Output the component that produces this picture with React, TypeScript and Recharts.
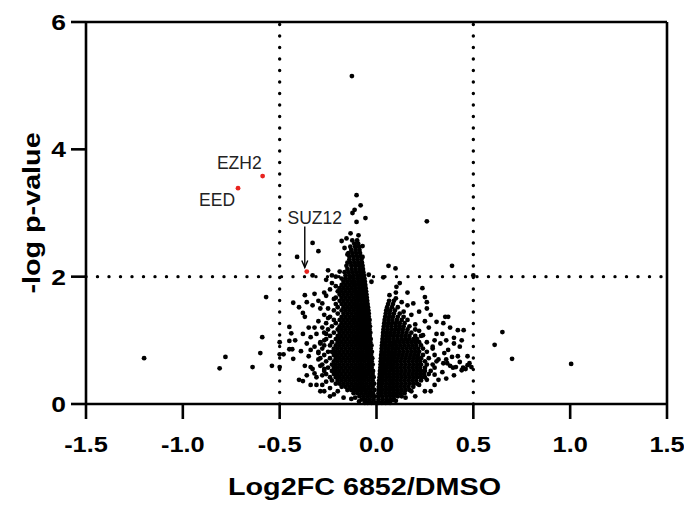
import React from "react";
import { ScatterChart, Scatter, XAxis, YAxis, ReferenceLine } from "recharts";

const xTicks = [-1.5, -1.0, -0.5, 0, 0.5, 1.0, 1.5];
const yTicks = [0, 2, 4, 6];

const hitNames = ["EZH2", "EED", "SUZ12"];
const hitLog2FC = [-0.588, -0.715, -0.36];
const hitLogP = [3.58, 3.39, 2.08];

// dense core of the volcano, one row per -log p level: [y, x values]
const leftRows: [number, number[]][] = [
  [0.02, [-0.005, -0.025, -0.045]],
  [0.07, [-0.015, -0.035, -0.055, -0.075]],
  [0.12, [-0.008, -0.028, -0.048, -0.068, -0.088]],
  [0.17, [-0.018, -0.038, -0.058, -0.078, -0.098, -0.118]],
  [0.22, [-0.01, -0.03, -0.05, -0.07, -0.09, -0.11, -0.13, -0.15]],
  [0.27, [-0.02, -0.04, -0.06, -0.08, -0.1, -0.12, -0.14, -0.16, -0.18]],
  [0.32, [-0.012, -0.03, -0.05, -0.07, -0.09, -0.11, -0.13, -0.15, -0.17, -0.19, -0.21]],
  [0.37, [-0.02, -0.04, -0.06, -0.08, -0.1, -0.12, -0.14, -0.16, -0.18, -0.2, -0.23]],
  [0.42, [-0.015, -0.03, -0.05, -0.07, -0.09, -0.11, -0.13, -0.15, -0.17, -0.19, -0.21, -0.24]],
  [0.47, [-0.02, -0.04, -0.06, -0.08, -0.1, -0.12, -0.14, -0.16, -0.18, -0.2, -0.22, -0.26]],
  [0.52, [-0.018, -0.035, -0.05, -0.07, -0.09, -0.11, -0.13, -0.15, -0.17, -0.19, -0.21, -0.23, -0.27]],
  [0.57, [-0.025, -0.04, -0.06, -0.08, -0.1, -0.12, -0.14, -0.16, -0.18, -0.2, -0.22, -0.25]],
  [0.62, [-0.02, -0.035, -0.05, -0.07, -0.09, -0.11, -0.13, -0.15, -0.17, -0.19, -0.21, -0.23, -0.28]],
  [0.67, [-0.025, -0.04, -0.06, -0.08, -0.1, -0.12, -0.14, -0.16, -0.18, -0.2, -0.22, -0.26]],
  [0.72, [-0.022, -0.035, -0.05, -0.07, -0.09, -0.11, -0.13, -0.15, -0.17, -0.19, -0.21, -0.24, -0.29]],
  [0.77, [-0.028, -0.045, -0.06, -0.08, -0.1, -0.12, -0.14, -0.16, -0.18, -0.2, -0.22, -0.27]],
  [0.82, [-0.024, -0.04, -0.05, -0.07, -0.09, -0.11, -0.13, -0.15, -0.17, -0.19, -0.21, -0.23, -0.25, -0.3]],
  [0.87, [-0.03, -0.045, -0.06, -0.08, -0.1, -0.12, -0.14, -0.16, -0.18, -0.2, -0.22, -0.28]],
  [0.92, [-0.026, -0.04, -0.055, -0.07, -0.09, -0.11, -0.13, -0.15, -0.17, -0.19, -0.21, -0.24, -0.27]],
  [0.97, [-0.032, -0.05, -0.065, -0.08, -0.1, -0.12, -0.14, -0.16, -0.18, -0.2, -0.23, -0.29]],
  [1.02, [-0.03, -0.045, -0.06, -0.075, -0.09, -0.11, -0.13, -0.15, -0.17, -0.19, -0.21, -0.26]],
  [1.07, [-0.035, -0.05, -0.065, -0.08, -0.1, -0.12, -0.14, -0.16, -0.18, -0.2, -0.24]],
  [1.12, [-0.032, -0.045, -0.06, -0.075, -0.09, -0.11, -0.13, -0.15, -0.17, -0.19, -0.22, -0.27]],
  [1.17, [-0.036, -0.05, -0.065, -0.08, -0.1, -0.12, -0.14, -0.16, -0.18, -0.2, -0.25]],
  [1.22, [-0.034, -0.048, -0.06, -0.075, -0.09, -0.11, -0.13, -0.15, -0.17, -0.19, -0.23]],
  [1.27, [-0.038, -0.052, -0.065, -0.08, -0.1, -0.12, -0.14, -0.16, -0.18, -0.21, -0.26]],
  [1.32, [-0.036, -0.05, -0.065, -0.08, -0.09, -0.11, -0.13, -0.15, -0.17, -0.19, -0.22]],
  [1.37, [-0.04, -0.055, -0.07, -0.085, -0.1, -0.12, -0.14, -0.16, -0.18, -0.24]],
  [1.42, [-0.04, -0.055, -0.07, -0.085, -0.1, -0.11, -0.13, -0.15, -0.17, -0.2]],
  [1.47, [-0.042, -0.058, -0.072, -0.088, -0.1, -0.12, -0.14, -0.16, -0.18, -0.22]],
  [1.52, [-0.044, -0.06, -0.075, -0.09, -0.11, -0.13, -0.15, -0.17, -0.2]],
  [1.57, [-0.046, -0.062, -0.078, -0.095, -0.11, -0.12, -0.14, -0.16, -0.18, -0.21]],
  [1.62, [-0.048, -0.064, -0.08, -0.095, -0.11, -0.13, -0.15, -0.17, -0.19]],
  [1.67, [-0.05, -0.066, -0.082, -0.1, -0.12, -0.14, -0.16, -0.18, -0.21]],
  [1.72, [-0.052, -0.068, -0.085, -0.1, -0.11, -0.13, -0.15, -0.17, -0.19]],
  [1.77, [-0.054, -0.07, -0.088, -0.105, -0.12, -0.14, -0.16, -0.18, -0.2]],
  [1.82, [-0.056, -0.072, -0.09, -0.11, -0.13, -0.15, -0.17, -0.19]],
  [1.87, [-0.058, -0.075, -0.092, -0.11, -0.12, -0.14, -0.16, -0.18]],
  [1.92, [-0.06, -0.078, -0.095, -0.115, -0.13, -0.15, -0.17]],
  [1.97, [-0.062, -0.08, -0.1, -0.12, -0.14, -0.16, -0.18]],
  [2.02, [-0.065, -0.082, -0.1, -0.12, -0.14, -0.16]],
  [2.07, [-0.068, -0.085, -0.105, -0.125, -0.145, -0.165]],
  [2.12, [-0.07, -0.088, -0.108, -0.128, -0.15]],
  [2.17, [-0.072, -0.09, -0.11, -0.13, -0.155]],
  [2.22, [-0.075, -0.095, -0.115, -0.135, -0.15]],
  [2.27, [-0.078, -0.098, -0.118, -0.14]],
  [2.32, [-0.082, -0.1, -0.12, -0.14]],
  [2.37, [-0.085, -0.105, -0.125, -0.145]],
  [2.42, [-0.088, -0.108, -0.13]],
  [2.47, [-0.09, -0.11, -0.135]],
  [2.52, [-0.095, -0.115]],
  [2.57, [-0.1, -0.125]],
];

const rightRows: [number, number[]][] = [
  [0.02, [0.008, 0.028, 0.048, 0.07]],
  [0.07, [0.01, 0.03, 0.05, 0.07, 0.09]],
  [0.12, [0.012, 0.03, 0.05, 0.07, 0.09, 0.11, 0.13]],
  [0.17, [0.01, 0.025, 0.045, 0.065, 0.085, 0.105, 0.125, 0.145]],
  [0.22, [0.012, 0.03, 0.05, 0.07, 0.09, 0.11, 0.13, 0.15, 0.17]],
  [0.27, [0.012, 0.025, 0.045, 0.065, 0.085, 0.105, 0.125, 0.145, 0.165, 0.19]],
  [0.32, [0.013, 0.03, 0.05, 0.07, 0.09, 0.11, 0.13, 0.15, 0.17, 0.19, 0.21]],
  [0.37, [0.014, 0.028, 0.045, 0.065, 0.085, 0.105, 0.125, 0.145, 0.165, 0.185, 0.205, 0.23]],
  [0.42, [0.016, 0.03, 0.05, 0.07, 0.09, 0.11, 0.13, 0.15, 0.17, 0.19, 0.21, 0.23, 0.25]],
  [0.47, [0.017, 0.032, 0.048, 0.065, 0.085, 0.105, 0.125, 0.145, 0.165, 0.185, 0.205, 0.225, 0.245, 0.27]],
  [0.52, [0.018, 0.034, 0.05, 0.07, 0.09, 0.11, 0.13, 0.15, 0.17, 0.19, 0.21, 0.23, 0.25, 0.28]],
  [0.57, [0.02, 0.035, 0.052, 0.07, 0.085, 0.105, 0.125, 0.145, 0.165, 0.185, 0.205, 0.225, 0.25, 0.3]],
  [0.62, [0.021, 0.036, 0.054, 0.07, 0.09, 0.11, 0.13, 0.15, 0.17, 0.19, 0.21, 0.23, 0.26, 0.29]],
  [0.67, [0.022, 0.038, 0.055, 0.072, 0.09, 0.105, 0.125, 0.145, 0.165, 0.185, 0.205, 0.225, 0.25, 0.31]],
  [0.72, [0.023, 0.04, 0.058, 0.075, 0.09, 0.11, 0.13, 0.15, 0.17, 0.19, 0.21, 0.23, 0.27]],
  [0.77, [0.024, 0.042, 0.06, 0.077, 0.095, 0.115, 0.135, 0.155, 0.175, 0.195, 0.215, 0.24, 0.3]],
  [0.82, [0.026, 0.044, 0.062, 0.08, 0.1, 0.12, 0.14, 0.16, 0.18, 0.2, 0.22, 0.26]],
  [0.87, [0.027, 0.045, 0.064, 0.082, 0.1, 0.115, 0.135, 0.155, 0.175, 0.195, 0.215, 0.24, 0.29]],
  [0.92, [0.028, 0.046, 0.065, 0.085, 0.105, 0.125, 0.145, 0.165, 0.185, 0.205, 0.23]],
  [0.97, [0.03, 0.048, 0.066, 0.085, 0.1, 0.12, 0.14, 0.16, 0.18, 0.2, 0.22, 0.26]],
  [1.02, [0.031, 0.05, 0.068, 0.088, 0.108, 0.128, 0.148, 0.168, 0.19, 0.21]],
  [1.07, [0.033, 0.052, 0.07, 0.09, 0.11, 0.13, 0.15, 0.17, 0.2, 0.23]],
  [1.12, [0.034, 0.054, 0.074, 0.094, 0.114, 0.134, 0.155, 0.18]],
  [1.17, [0.036, 0.056, 0.076, 0.096, 0.116, 0.136, 0.16, 0.2]],
  [1.22, [0.038, 0.058, 0.078, 0.1, 0.12, 0.14, 0.17]],
  [1.27, [0.04, 0.06, 0.08, 0.1, 0.12, 0.145]],
  [1.32, [0.042, 0.062, 0.082, 0.105, 0.13, 0.16]],
  [1.37, [0.045, 0.065, 0.085, 0.11, 0.14]],
  [1.42, [0.048, 0.068, 0.09, 0.12]],
  [1.47, [0.05, 0.07, 0.095]],
  [1.52, [0.055, 0.08, 0.11]],
  [1.57, [0.06, 0.085]],
  [1.62, [0.065, 0.09]],
];

// sparse points around the core: [log2FC, -log p]
const sparsePts: [number, number][] = [
  [-0.127, 5.15], [0.26, 2.87],
  [-0.103, 3.28], [-0.082, 3.12], [-0.113, 3.05], [-0.124, 3.0], [-0.103, 2.86], [-0.057, 2.92],
  [-0.134, 2.68], [-0.093, 2.65], [-0.18, 2.56], [-0.155, 2.6], [-0.072, 2.48], [-0.165, 2.45],
  [-0.072, 2.31], [-0.15, 2.35], [-0.04, 2.03], [-0.026, 1.92],
  [-0.33, 2.53], [-0.3, 2.4], [-0.41, 2.31], [-0.33, 2.02], [-0.23, 2.02], [-0.21, 2.0], [-0.19, 2.08],
  [0.062, 2.17], [0.098, 2.13], [0.39, 2.17], [0.5, 2.02], [0.035, 1.99],
  [-0.37, 1.71], [-0.32, 1.73], [-0.27, 1.75], [-0.43, 1.59], [-0.4, 1.52], [-0.38, 1.43], [-0.37, 1.37],
  [-0.45, 1.21], [-0.44, 1.11], [-0.45, 0.99], [-0.42, 1.0], [-0.45, 0.86], [-0.435, 0.86], [-0.39, 0.83],
  [-0.43, 0.71], [-0.4, 0.38], [-0.38, 0.36], [-0.34, 0.58], [-0.33, 0.55], [-0.3, 1.3], [-0.31, 1.1],
  [-0.29, 0.95], [-0.32, 0.9], [-0.35, 0.75], [-0.3, 0.7], [-0.36, 0.45], [-0.31, 0.42], [-0.28, 0.3],
  [-0.33, 1.55], [-0.29, 1.5], [-0.3, 1.62], [-0.28, 1.2], [-0.35, 1.2], [-0.34, 1.05], [-0.28, 0.45],
  [-0.24, 0.25], [-0.2, 0.2], [-0.27, 0.2], [-0.22, 1.65], [-0.25, 1.5], [-0.21, 1.85], [-0.23, 1.9],
  [-0.25, 1.35], [-0.27, 1.0], [-0.29, 0.6], [-0.31, 0.3], [-0.22, 0.15], [-0.17, 0.1], [-0.13, 0.08],
  [-0.26, 1.7], [-0.28, 1.58], [-0.36, 1.6], [-0.26, 1.1], [-0.32, 1.2], [-0.38, 1.1], [-0.36, 0.95],
  [-0.34, 0.85], [-0.37, 0.6], [-0.32, 0.48], [-0.27, 0.55], [-0.26, 0.35], [-0.29, 0.2], [-0.34, 0.3],
  [-0.24, 0.12], [-0.3, 0.8], [-0.27, 1.4], [-0.24, 1.8], [-0.26, 1.95], [-0.25, 2.1],
  [-0.09, 0.04], [-0.06, 0.02], [0.06, 0.03], [0.1, 0.05], [-0.11, 0.1],
  [-1.2, 0.72], [-0.81, 0.56], [-0.78, 0.74], [-0.64, 0.58], [-0.6, 0.8], [-0.59, 1.05], [-0.57, 1.68],
  [-0.54, 0.6], [-0.5, 0.97], [-0.5, 0.78], [-0.48, 0.78], [-0.5, 0.58],
  [0.067, 1.71], [0.103, 1.84], [0.1, 1.75], [0.237, 1.82], [0.25, 1.68], [0.1, 1.66], [0.19, 1.58],
  [0.16, 1.55], [0.13, 1.6], [0.14, 1.45], [0.28, 1.4], [0.31, 1.29], [0.345, 1.27], [0.37, 1.37],
  [0.355, 1.37], [0.42, 1.16], [0.45, 1.16], [0.4, 1.04], [0.37, 0.85], [0.39, 0.74], [0.43, 0.9],
  [0.41, 0.58], [0.44, 0.53], [0.47, 0.61], [0.49, 0.58], [0.345, 0.64], [0.3, 0.46], [0.22, 0.3],
  [0.088, 0.06], [0.24, 1.08], [0.3, 1.0], [0.33, 0.95], [0.35, 0.8], [0.32, 0.7], [0.34, 0.5],
  [0.38, 0.6], [0.27, 1.2], [0.25, 1.3], [0.2, 1.25], [0.22, 1.15], [0.26, 0.38], [0.32, 0.38],
  [0.43, 0.66], [0.46, 0.55], [0.4, 0.95], [0.44, 1.0], [0.47, 0.75], [0.18, 0.2], [0.25, 0.2],
  [0.15, 0.1], [0.365, 0.64], [0.395, 0.57], [0.447, 0.57], [0.48, 0.64],
  [0.28, 0.2], [0.3, 0.3], [0.29, 0.9], [0.31, 1.1], [0.26, 1.5], [0.22, 1.45], [0.36, 1.0],
  [0.34, 1.1], [0.38, 1.2], [0.36, 0.7], [0.42, 0.75], [0.4, 0.45], [0.36, 0.4], [0.2, 0.12],
  [0.26, 1.6], [0.18, 1.4], [0.16, 1.75], [0.12, 1.9],
  [0.61, 0.93], [0.65, 1.13], [0.7, 0.71], [1.005, 0.63],
];

const coreData = [...leftRows, ...rightRows].flatMap(([y, xs]) => xs.map((x) => ({ x, y })));
const sparseData = sparsePts.map(([x, y]) => ({ x, y }));
const hitData = hitNames.map((name, i) => ({ name, x: hitLog2FC[i], y: hitLogP[i] }));

const FONT = "'Liberation Sans', Arial, sans-serif";

// where each gene label sits relative to its point
const hitLabelPos: Record<string, { dx: number; dy: number; anchor: string; arrow?: boolean }> = {
  EZH2: { dx: -1, dy: -7, anchor: "end" },
  EED: { dx: -3, dy: 18, anchor: "end" },
  SUZ12: { dx: 8, dy: -48, anchor: "middle", arrow: true },
};

const Dot = (props: any) => <circle cx={props.cx} cy={props.cy} r={2.4} fill="#000" />;

const HitDot = (props: any) => {
  const { cx, cy, payload } = props;
  const pos = hitLabelPos[payload.name];
  return (
    <g>
      <circle cx={cx} cy={cy} r={2.4} fill="#e8231f" />
      <text x={cx + pos.dx} y={cy + pos.dy} textAnchor={pos.anchor} fontFamily={FONT} fontSize={17.5} fill="#222">
        {payload.name}
      </text>
      {pos.arrow && (
        <g stroke="#000" strokeWidth={1.4} fill="none">
          <line x1={cx - 2} y1={cy - 45} x2={cx - 2} y2={cy - 4} />
          <polyline points={`${cx - 5},${cy - 11} ${cx - 2},${cy - 4} ${cx + 1},${cy - 11}`} />
        </g>
      )}
    </g>
  );
};

const XTick = ({ x, y, payload }: any) => (
  <g transform={`translate(${x},${y + 31}) scale(1.18,1)`}>
    <text textAnchor="middle" fontFamily={FONT} fontWeight="bold" fontSize={21.5} fill="#000">
      {Number(payload.value).toFixed(1)}
    </text>
  </g>
);

const YTick = ({ x, y, payload }: any) => (
  <g transform={`translate(${x},${y + 8}) scale(1.2,1)`}>
    <text textAnchor="end" fontFamily={FONT} fontWeight="bold" fontSize={22} fill="#000">
      {payload.value}
    </text>
  </g>
);

const XTitle = ({ viewBox }: any) => (
  <g transform={`translate(${viewBox.x + viewBox.width / 2 - 12},${viewBox.y + 91}) scale(1.25,1)`}>
    <text textAnchor="middle" fontFamily={FONT} fontWeight="bold" fontSize={23} fill="#000">
      Log2FC 6852/DMSO
    </text>
  </g>
);

const YTitle = ({ viewBox }: any) => (
  <g transform={`translate(40,${viewBox.y + viewBox.height / 2}) rotate(-90) scale(1.25,1)`}>
    <text textAnchor="middle" fontFamily={FONT} fontWeight="bold" fontSize={23} fill="#000">
      -log p-value
    </text>
  </g>
);

const dotted = { stroke: "#000", strokeWidth: 3.4, strokeDasharray: "0 11.5", strokeLinecap: "round" as const };

export default function App() {
  return (
    <div style={{ position: "absolute", left: 0, top: 0, width: 684, height: 507, background: "#fff" }}>
      <ScatterChart width={684} height={507} margin={{ top: 22, right: 17, bottom: 33, left: 0 }}>
        <XAxis
          type="number"
          dataKey="x"
          domain={[-1.5, 1.5]}
          ticks={xTicks}
          height={70}
          tickSize={15}
          tickMargin={2}
          axisLine={{ stroke: "#000", strokeWidth: 2.6 }}
          tickLine={{ stroke: "#000", strokeWidth: 2.6 }}
          tick={<XTick />}
          label={<XTitle />}
        />
        <YAxis
          type="number"
          dataKey="y"
          domain={[0, 6]}
          ticks={yTicks}
          width={86}
          tickSize={15}
          tickMargin={5}
          axisLine={{ stroke: "#000", strokeWidth: 2.6 }}
          tickLine={{ stroke: "#000", strokeWidth: 2.6 }}
          tick={<YTick />}
          label={<YTitle />}
        />
        <ReferenceLine y={6} stroke="#000" strokeWidth={2.6} />
        <ReferenceLine x={1.5} stroke="#000" strokeWidth={2.6} />
        <ReferenceLine x={-0.5} {...dotted} />
        <ReferenceLine x={0.5} {...dotted} />
        <ReferenceLine y={2} {...dotted} />
        <Scatter data={coreData} shape={<Dot />} isAnimationActive={false} />
        <Scatter data={sparseData} shape={<Dot />} isAnimationActive={false} />
        <Scatter data={hitData} shape={<HitDot />} isAnimationActive={false} />
      </ScatterChart>
    </div>
  );
}
